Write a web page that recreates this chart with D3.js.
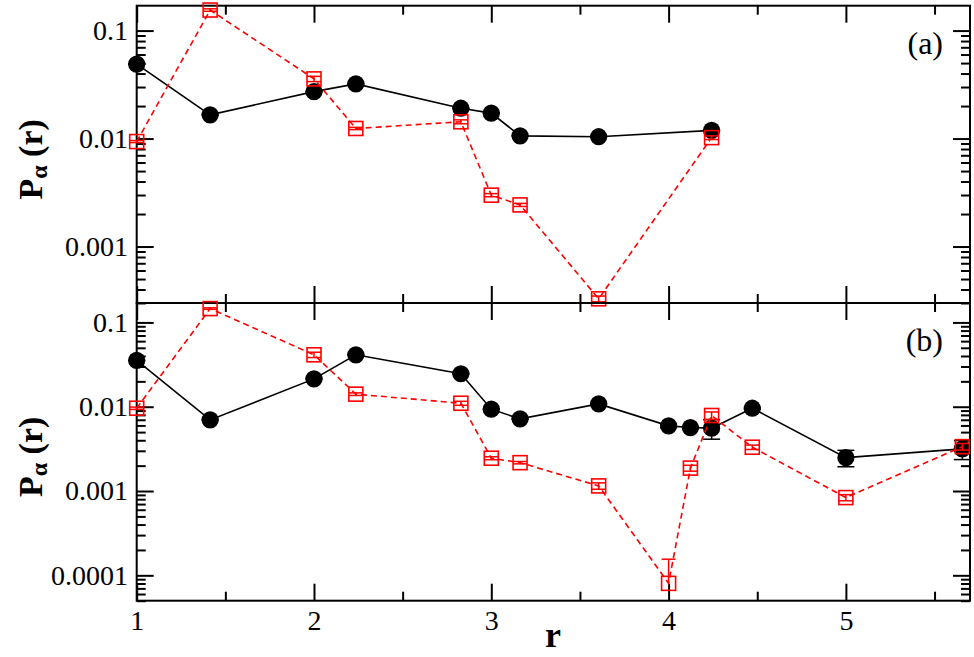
<!DOCTYPE html>
<html><head><meta charset="utf-8"><script src="https://cdn.jsdelivr.net/npm/d3@7"></script>
<style>#c text{font-family:"Times New Roman","Liberation Serif",Tinos,Times !important}</style></head>
<body style="margin:0">
<svg id="c" width="974" height="657" style="display:block;background:#fff"></svg>
<script>
// ---- data ----
const rA = [1, 1.4142, 2, 2.2361, 2.8284, 3, 3.1623, 3.6056, 4.2426];
const blackA = [0.0489, 0.0166, 0.0272, 0.0321, 0.0191, 0.0172, 0.0106, 0.0104, 0.0119];
const blackAErr = [0.0005, 0.0002, 0.0003, 0.0003, 0.0002, 0.0002, 0.0001, 0.0001, 0.0002];
const redA = [0.00938, 0.155, 0.0357, 0.0124, 0.0143, 0.00299, 0.00243, 0.000328, 0.0102];
const redAErr = [0.0002, 0.004, 0.002, 0.0003, 0.0006, 0.0001, 0.00008, 0.00002, 0.0004];

const rB = [1, 1.4142, 2, 2.2361, 2.8284, 3, 3.1623, 3.6056, 4, 4.1231, 4.2426, 4.4721, 5, 5.6569];
const blackB = [0.0354, 0.00698, 0.0214, 0.0413, 0.0246, 0.00935, 0.00717, 0.0108, 0.00593, 0.00566, 0.00557, 0.0096, 0.00249, 0.00316];
const blackBErr = [0.0004, 0.0001, 0.0003, 0.0005, 0.0003, 0.0001, 0.0001, 0.0002, 0.0003, 0.0002, 0.00145, 0.0003, 0.00055, 0.0008];
const redB = [0.0096, 0.146, 0.0413, 0.0141, 0.0110, 0.00245, 0.00217, 0.00115, 0.0000803, 0.00187, 0.00787, 0.00331, 0.000836, 0.00336];
const redBErr = [0.0003, 0.003, 0.003, 0.0005, 0.0006, 0.0001, 0.00007, 0.0001, 0.000075, 0.00015, 0.0008, 0.0002, 0.00007, 0.0003];

const xMajor = [1, 2, 3, 4, 5];
const xMinor = [1.5, 2.5, 3.5, 4.5, 5.5];
const xDomain = [1, 5.7];
const yDomainA = [0.0003, 0.17];
const yDomainB = [0.00005, 0.17];
const yLabelsA = ["0.001", "0.01", "0.1"];
const yLabelsB = ["0.0001", "0.001", "0.01", "0.1"];

// ---- layout ----
const L = 136.7, R = 970;
const panels = [
  {id: "(a)", top: 5.7, bottom: 303, dom: yDomainA, labels: yLabelsA, r: rA, blk: blackA, blkE: blackAErr, red: redA, redE: redAErr, showX: false},
  {id: "(b)", top: 303, bottom: 600.7, dom: yDomainB, labels: yLabelsB, r: rB, blk: blackB, blkE: blackBErr, red: redB, redE: redBErr, showX: true}
];
const svg = d3.select("#c");
const x = d3.scaleLinear().domain(xDomain).range([L, R]);
const MAJ = 17, MIN = 9;
const tickTexts = [];

function styleAxis(g) {
  g.attr("font-family", null).attr("font-size", null);
  g.select(".domain").remove();
  g.selectAll(".tick line").attr("stroke", "#000").attr("stroke-width", 2);
  g.selectAll(".tick text").each(function () { tickTexts.push(this); });
}

panels.forEach(p => {
  const y = d3.scaleLog().domain(p.dom).range([p.bottom, p.top]);
  const yMaj = p.labels.map(Number);
  const yMin = y.ticks().filter(v => Math.abs(Math.log10(v) - Math.round(Math.log10(v))) > 1e-6);
  const g = svg.append("g");

  g.append("g").attr("transform", `translate(${L},0)`)
    .call(d3.axisLeft(y).tickValues(yMaj).tickFormat((d, i) => p.labels[i]).tickSize(-MAJ).tickPadding(8.7)).call(styleAxis);
  g.append("g").attr("transform", `translate(${L},0)`)
    .call(d3.axisLeft(y).tickValues(yMin).tickFormat("").tickSize(-MIN)).call(styleAxis);
  g.append("g").attr("transform", `translate(${R},0)`)
    .call(d3.axisRight(y).tickValues(yMaj).tickFormat("").tickSize(-MAJ)).call(styleAxis);
  g.append("g").attr("transform", `translate(${R},0)`)
    .call(d3.axisRight(y).tickValues(yMin).tickFormat("").tickSize(-MIN)).call(styleAxis);

  g.append("g").attr("transform", `translate(0,${p.top})`)
    .call(d3.axisTop(x).tickValues(xMajor).tickFormat("").tickSize(-MAJ)).call(styleAxis);
  g.append("g").attr("transform", `translate(0,${p.top})`)
    .call(d3.axisTop(x).tickValues(xMinor).tickFormat("").tickSize(-MIN)).call(styleAxis);
  g.append("g").attr("transform", `translate(0,${p.bottom})`)
    .call(d3.axisBottom(x).tickValues(xMajor).tickFormat(p.showX ? d3.format("d") : "").tickSize(-MAJ).tickPadding(9)).call(styleAxis);
  g.append("g").attr("transform", `translate(0,${p.bottom})`)
    .call(d3.axisBottom(x).tickValues(xMinor).tickFormat("").tickSize(-MIN)).call(styleAxis);

  g.append("rect").attr("x", L).attr("y", p.top).attr("width", R - L).attr("height", p.bottom - p.top)
    .attr("fill", "none").attr("stroke", "#000").attr("stroke-width", 2);

  const line = d3.line().x(d => x(d[0])).y(d => y(d[1]));
  function errBars(vals, errs, color, cap) {
    const eg = g.append("g").attr("stroke", color).attr("stroke-width", 1.5);
    p.r.forEach((rv, i) => {
      const v = vals[i], e = errs[i];
      const cx = x(rv);
      const hi = y(v + e);
      const lowOk = v - e > p.dom[0];
      const lo = lowOk ? y(v - e) : y(v);
      eg.append("line").attr("x1", cx).attr("x2", cx).attr("y1", lo).attr("y2", hi);
      eg.append("line").attr("x1", cx - cap / 2).attr("x2", cx + cap / 2).attr("y1", hi).attr("y2", hi);
      if (lowOk) eg.append("line").attr("x1", cx - cap / 2).attr("x2", cx + cap / 2).attr("y1", lo).attr("y2", lo);
    });
  }

  g.append("path").datum(p.r.map((rv, i) => [rv, p.blk[i]])).attr("d", line)
    .attr("fill", "none").attr("stroke", "#000").attr("stroke-width", 1.6);
  errBars(p.blk, p.blkE, "#000", 17);
  g.append("g").selectAll("circle").data(p.r.map((rv, i) => [rv, p.blk[i]])).join("circle")
    .attr("cx", d => x(d[0])).attr("cy", d => y(d[1])).attr("r", 8.6).attr("fill", "#000");

  g.append("path").datum(p.r.map((rv, i) => [rv, p.red[i]])).attr("d", line)
    .attr("fill", "none").attr("stroke", "#ff0000").attr("stroke-width", 1.6).attr("stroke-dasharray", "6,4");
  errBars(p.red, p.redE, "#ff0000", 14);
  const S = 14;
  g.append("g").selectAll("rect").data(p.r.map((rv, i) => [rv, p.red[i]])).join("rect")
    .attr("x", d => x(d[0]) - S / 2).attr("y", d => y(d[1]) - S / 2).attr("width", S).attr("height", S)
    .attr("fill", "none").attr("stroke", "#ff0000").attr("stroke-width", 1.6);

  g.append("text").attr("x", 943).attr("y", p.top + 48).attr("text-anchor", "end")
    .style("font-size", "32px").text(p.id);

  const cy = (p.top + p.bottom) / 2 + 5;
  const t = g.append("text").attr("transform", `translate(42,${cy}) rotate(-90)`).attr("text-anchor", "middle")
    .style("font-size", "34px").style("font-weight", "bold");
  t.append("tspan").text("P");
  t.append("tspan").style("font-size", "24px").attr("dy", 5).text("α");
  t.append("tspan").attr("dy", -5).text(" (r)");
});

svg.append("text").attr("x", 553).attr("y", 647).attr("text-anchor", "middle")
  .style("font-size", "36px").style("font-weight", "bold").text("r");

d3.selectAll(tickTexts).style("font-size", "28px").attr("fill", "#000");
svg.selectAll("text").attr("font-family", "Times New Roman");
</script>
</body></html>
